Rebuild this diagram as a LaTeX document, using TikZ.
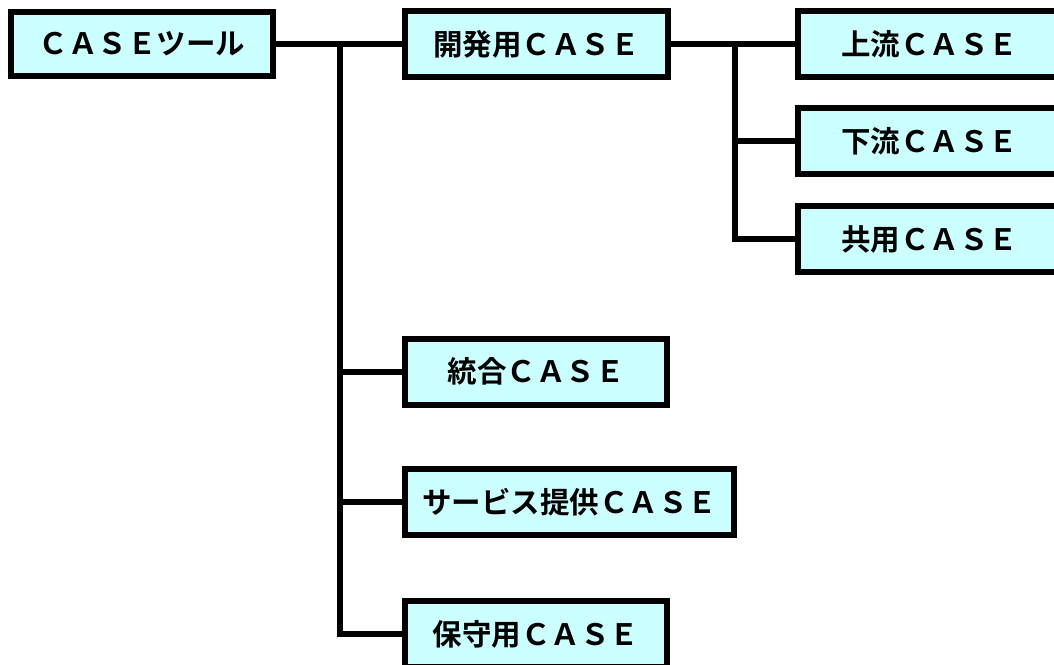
\documentclass[tikz,border=0pt]{standalone}
\usepackage{fontspec}
\setmainfont{Noto Sans CJK JP}[BoldFont={Noto Sans CJK JP Bold}]
\definecolor{boxfill}{HTML}{CCFFFF}
\tikzset{
  box/.style={draw=black, fill=boxfill, line width=6pt, rectangle, inner sep=0pt,
    minimum height=66pt, font=\fontsize{29.5}{31}\selectfont\bfseries},
  conn/.style={draw=black, line width=6pt, line join=miter}
}
\begin{document}
\begin{tikzpicture}[x=1pt,y=-1pt]
\useasboundingbox (0,0) rectangle (1054,664);
\clip (0,0) rectangle (1054,664);
\fill[white] (0,0) rectangle (1054,664);
\node[box, minimum width=262pt, minimum height=64pt] (root) at (142,44) {ＣＡＳＥツール};
\node[box, minimum width=263pt] (dev) at (536.5,44) {開発用ＣＡＳＥ};
\node[box, minimum width=263pt] (up) at (929.5,44) {上流ＣＡＳＥ};
\node[box, minimum width=263pt] (down) at (929.5,141) {下流ＣＡＳＥ};
\node[box, minimum width=263pt] (common) at (929.5,239) {共用ＣＡＳＥ};
\node[box, minimum width=262pt] (integ) at (536,371.5) {統合ＣＡＳＥ};
\node[box, minimum width=329pt] (serv) at (569.5,502) {サービス提供ＣＡＳＥ};
\node[box, minimum width=262pt] (maint) at (536,634) {保守用ＣＡＳＥ};
\coordinate (j1) at (340,44);
\coordinate (j2) at (735,44);
\draw[conn] (root.east) -- (dev.west);
\draw[conn] (j1) |- (integ.west);
\draw[conn] (j1) |- (serv.west);
\draw[conn] (j1) |- (maint.west);
\draw[conn] (dev.east) -- (up.west);
\draw[conn] (j2) |- (down.west);
\draw[conn] (j2) |- (common.west);
\end{tikzpicture}
\end{document}
